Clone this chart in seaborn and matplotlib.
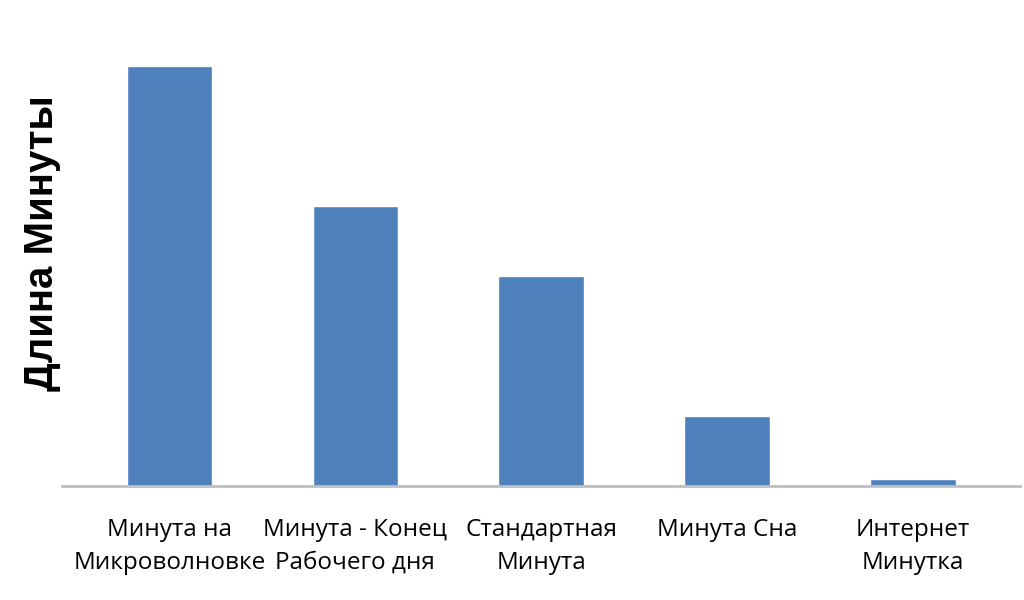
import matplotlib
matplotlib.use('Agg')
import matplotlib.pyplot as plt
import seaborn as sns
import pandas as pd

# ── DATA ──────────────────────────────────────────────────────────────────────
categories = [
    'Минута на\nМикроволновке',
    'Минута - Конец\nРабочего дня',
    'Стандартная\nМинута',
    'Минута Сна',
    'Интернет\nМинутка',
]
values = [60, 40, 30, 10, 1]
y_label = 'Длина Минуты'

df = pd.DataFrame({'category': categories, 'value': values})

# ── PLOT ──────────────────────────────────────────────────────────────────────
sns.set_theme(style='white')
plt.rcParams['font.family'] = ['Open Sans', 'DejaVu Sans']

fig, ax = plt.subplots(figsize=(10.24, 6), dpi=100)
fig.subplots_adjust(left=0.061, right=0.996, bottom=0.19, top=0.948)

sns.barplot(data=df, x='category', y='value', color='#4F81BD',
            saturation=1, width=0.46, ax=ax)

ax.set_xlim(-0.575, 4.575)
ax.set_ylim(0, 65)

for side in ['top', 'right', 'left']:
    ax.spines[side].set_visible(False)
ax.spines['bottom'].set_color('#BFBFBF')
ax.spines['bottom'].set_linewidth(2)

ax.set_yticks([])
ax.set_xlabel('')
ax.tick_params(axis='x', length=0, pad=23, labelsize=17.5, labelcolor='black')
for lbl in ax.get_xticklabels():
    lbl.set_linespacing(1.5)

ax.set_ylabel(y_label, fontsize=29, fontweight='bold', color='black',
              family=['Liberation Sans', 'DejaVu Sans'])
ax.yaxis.set_label_coords(-0.002, 0.535)

fig.savefig('out.png', dpi=100, facecolor='white')
